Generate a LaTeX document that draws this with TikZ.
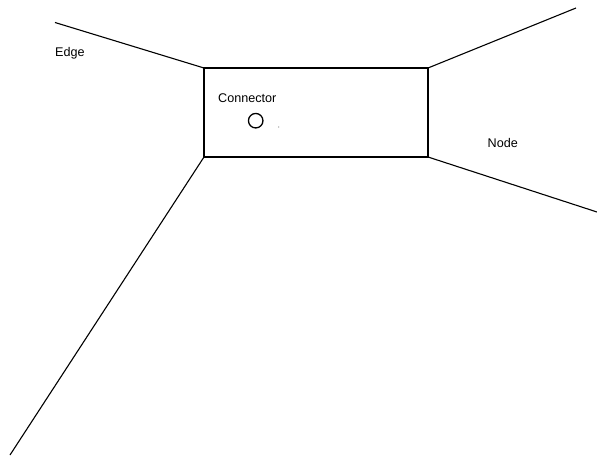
\documentclass[tikz,border=0pt]{standalone}
\usepackage{fontspec}
\setmainfont{Liberation Sans}
\begin{document}
\begin{tikzpicture}[x=1pt,y=-1pt,
  edgeline/.style={line width=1.1pt,black},
  boxshape/.style={draw,line width=1.5pt,rectangle,inner sep=0pt,outer sep=0pt,minimum width=224pt,minimum height=89pt},
  lbl/.style={inner sep=0pt,font=\fontsize{12.6}{14}\selectfont}]
\useasboundingbox (0,0) rectangle (597,457);
\node[boxshape] (box) at (316,112.5) {};
\coordinate (tl) at (55,22.5);
\coordinate (tr) at (576,8);
\coordinate (br) at (597,212);
\coordinate (bl) at (10,455);
\draw[edgeline] (tl) -- (box.north west);
\draw[edgeline] (box.north east) -- (tr);
\draw[edgeline] (box.south east) -- (br);
\draw[edgeline] (box.south west) -- (bl);
\node[lbl,anchor=west] (edge) at (55,53) {Edge};
\node[lbl,anchor=west] (conn) at (218,98) {Connector};
\node[lbl,anchor=west] (node) at (487.5,143) {Node};
\node[draw,circle,line width=1.3pt,minimum size=14.5pt,inner sep=0pt] (port) at (255.7,120.7) {};
\fill[gray] (278.7,127) circle (0.6);
\end{tikzpicture}
\end{document}
